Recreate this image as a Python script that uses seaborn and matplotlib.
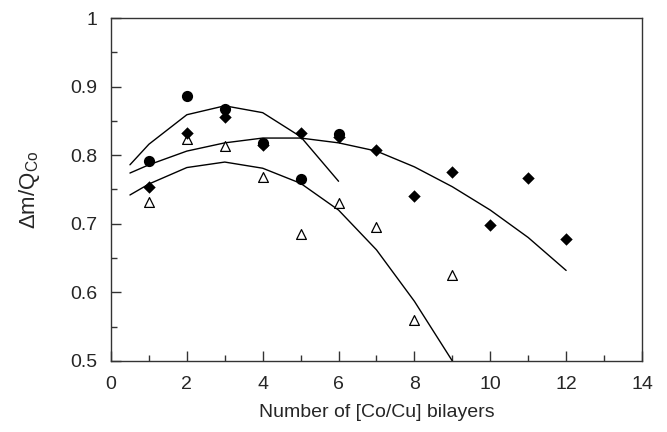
import numpy as np
import pandas as pd
import matplotlib
matplotlib.use("Agg")
import matplotlib.pyplot as plt
from matplotlib.ticker import MultipleLocator, FuncFormatter
import seaborn as sns

# ---- data ----
x_pts = [1, 2, 3, 4, 5, 6]
circles = [0.792, 0.887, 0.868, 0.818, 0.766, 0.831]

x_dia = [1, 2, 3, 4, 5, 6, 7, 8, 9, 10, 11, 12]
diamonds = [0.753, 0.832, 0.855, 0.815, 0.833, 0.827, 0.808, 0.741, 0.775, 0.698, 0.767, 0.678]

x_tri = [1, 2, 3, 4, 5, 6, 7, 8, 9]
triangles = [0.732, 0.823, 0.814, 0.768, 0.685, 0.730, 0.695, 0.560, 0.626]

x_fit_c = [0.5, 1, 2, 3, 4, 5, 6]
fit_c = [0.786, 0.816, 0.859, 0.872, 0.862, 0.827, 0.762]

x_fit_d = [0.5, 1, 2, 3, 4, 5, 6, 7, 8, 9, 10, 11, 12]
fit_d = [0.774, 0.786, 0.806, 0.818, 0.825, 0.825, 0.818, 0.806, 0.783, 0.754, 0.720, 0.680, 0.632]

x_fit_t = [0.5, 1, 2, 3, 4, 5, 6, 7, 8, 9]
fit_t = [0.742, 0.758, 0.782, 0.790, 0.781, 0.759, 0.720, 0.662, 0.587, 0.500]

xticks = [0, 2, 4, 6, 8, 10, 12, 14]
yticks = [0.5, 0.6, 0.7, 0.8, 0.9, 1.0]

# ---- style ----
sns.set_style("ticks")
plt.rcParams['font.family'] = ['Liberation Sans', 'DejaVu Sans']
plt.rcParams['mathtext.fontset'] = 'custom'
plt.rcParams['mathtext.rm'] = 'Liberation Sans'
plt.rcParams['mathtext.it'] = 'Liberation Sans:italic'

fig = plt.figure(figsize=(6.67, 4.32), dpi=100)
ax = fig.add_axes([0.1664, 0.1644, 0.7961, 0.7939])

# fit lines
for xs, ys in [(x_fit_c, fit_c), (x_fit_d, fit_d), (x_fit_t, fit_t)]:
    sns.lineplot(x=xs, y=ys, ax=ax, color='black', linewidth=1.0, sort=False,
                 estimator=None)

# markers
sns.scatterplot(x=x_tri, y=triangles, ax=ax, marker='^', s=50,
                facecolor='white', edgecolor='black', linewidth=0.9, zorder=3)
sns.scatterplot(x=x_dia, y=diamonds, ax=ax, marker='D', s=40,
                color='black', edgecolor='black', linewidth=0, zorder=4)
sns.scatterplot(x=x_pts, y=circles, ax=ax, marker='o', s=65,
                color='black', edgecolor='black', linewidth=0, zorder=5)

ax.set_xlim(0, 14)
ax.set_ylim(0.5, 1.0)
ax.set_xticks(xticks)
ax.set_yticks(yticks)
ax.xaxis.set_minor_locator(MultipleLocator(1))
ax.yaxis.set_minor_locator(MultipleLocator(0.05))
ax.yaxis.set_major_formatter(FuncFormatter(lambda v, p: '%g' % round(v, 2)))

ax.tick_params(which='both', direction='in', top=False, right=False, labelsize=14,
               color='#333333', width=1.0)
ax.tick_params(which='major', length=7)
ax.tick_params(which='minor', length=4)
ax.tick_params(axis='y', which='major', pad=10)
ax.tick_params(axis='x', which='major', pad=11)

for s in ax.spines.values():
    s.set_visible(True)
    s.set_linewidth(1.0)
    s.set_color('#333333')

ax.set_xlabel('Number of [Co/Cu] bilayers', fontsize=14, labelpad=8)
ax.set_ylabel(r'$\mathregular{\Delta m/Q_{Co}}$', fontsize=16, labelpad=20)

fig.savefig('out.png', dpi=100)
